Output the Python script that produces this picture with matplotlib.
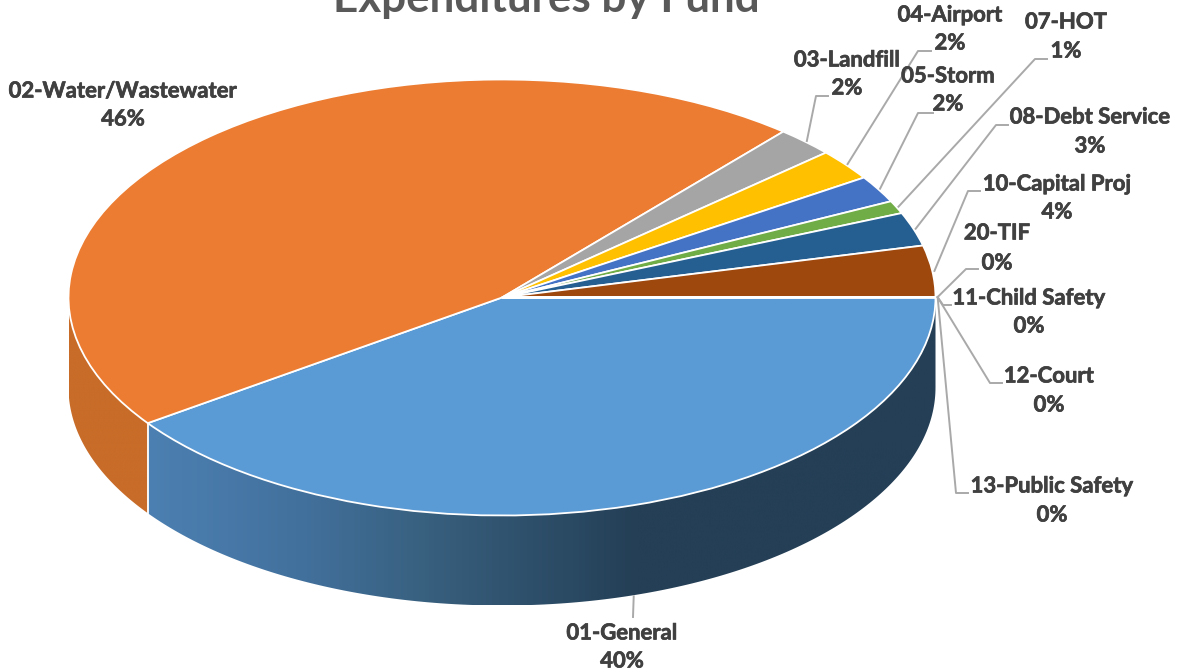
import numpy as np
import matplotlib
matplotlib.use('Agg')
import matplotlib.pyplot as plt
import matplotlib.patheffects as pe
from matplotlib.colors import LinearSegmentedColormap
from matplotlib.patches import Polygon

plt.rcParams['font.family'] = ['Lato', 'DejaVu Sans']

funds = ['01-General', '02-Water/Wastewater', '03-Landfill', '04-Airport', '05-Storm', '07-HOT',
         '08-Debt Service', '10-Capital Proj', '20-TIF', '11-Child Safety', '12-Court', '13-Public Safety']
shares = [40.3, 46.1, 2.2, 2.3, 2.0, 0.95, 2.5, 3.8, 0.01, 0.01, 0.01, 0.01]
colors = ['#5B9BD5', '#EB7C31', '#A5A5A5', '#FFC000', '#4472C4', '#70AD47',
          '#255E91', '#9E480E', '#636363', '#997300', '#264478', '#43682B']

# label centre (name line), percent line y, leader elbow and end, all in pixels
label_pos = [(622, 633, 661), (123, 91, 119), (847, 60, 88), (950, 15, 43), (948, 76, 104), (1066, 22, 51),
             (1090, 117, 146), (1057, 184, 212), (997, 233, 263), (1029, 298, 326), (1049, 376, 405), (1052, 486, 515)]
leaders = [(633, 617, 633), None, (816, 96, 828), (918, 51, 931), (918, 113, 933), (1035, 59, 1047),
           (996, 125, 1008), (968, 191, 980), (966, 269, 978), (943, 305, 951), (990, 383, 1002), (956, 493, 968)]

W, H = 1178, 672
cx, cy, rx, ry, depth = 502, 297.5, 433.5, 218, 90


def px(x, y):
    return (x - cx) / rx, (cy - y) / ry


fig = plt.figure(figsize=(W / 100, H / 100), dpi=100)
ax = fig.add_axes([0, 0, 1, 1])
x0, y0 = px(0, H)
x1, y1 = px(W, 0)
d = depth / ry


def wall(a0, a1, stops, cols):
    t = np.radians(np.linspace(a0, a1, 200))
    xs, ys = np.cos(t), -np.sin(t)
    pts = np.r_[np.c_[xs, ys], np.c_[xs, ys - d][::-1]]
    cm = LinearSegmentedColormap.from_list('w', list(zip(stops, cols)))
    im = ax.imshow(np.linspace(0, 1, 512)[None, :], cmap=cm, aspect='auto',
                   extent=[xs.min(), xs.max(), ys.min() - d, ys.max()], zorder=1)
    im.set_clip_path(Polygon(pts, transform=ax.transData))


edges = np.cumsum(shares) / np.sum(shares) * 360
# front wall of 01-General, shaded left to right
wall(0, edges[0], [0, 0.2, 0.35, 0.62, 1], ['#4c80b2', '#42709c', '#38607f', '#243f56', '#243f56'])
wall(edges[0], 180, [0, 1], ['#c86c29', '#c86c29'])
ax.plot(*zip((np.cos(np.radians(edges[0])), -np.sin(np.radians(edges[0]))),
             (np.cos(np.radians(edges[0])), -np.sin(np.radians(edges[0])) - d)),
        color='white', lw=1.3, zorder=2)

ax.pie(shares, colors=colors, startangle=0, counterclock=False, radius=1, center=(0, 0),
       wedgeprops=dict(edgecolor='white', linewidth=1.3, zorder=3))
ax.set_aspect('auto')
ax.set_xlim(x0, x1)
ax.set_ylim(y0, y1)
ax.axis('off')

bolder = [pe.withStroke(linewidth=0.5, foreground='#404040')]
mids = edges - np.array(shares) / np.sum(shares) * 180
for i, name in enumerate(funds):
    tx, ty1, ty2 = label_pos[i]
    ax.text(*px(tx, ty1), name, ha='center', va='center', fontsize=15.9, fontweight='bold', color='#404040',
            zorder=5, path_effects=bolder)
    ax.text(*px(tx, ty2), f'{int(shares[i] + 0.5)}%', ha='center', va='center', fontsize=15.9,
            fontweight='bold', color='#404040', zorder=5, path_effects=bolder)
    if leaders[i] is None:
        continue
    t = np.radians(mids[i])
    sx, sy = np.cos(t) * 1.005, -np.sin(t) * 1.005
    if i == 0:
        sy -= d
    ex, ey, endx = leaders[i]
    a, b = px(ex, ey), px(endx, ey)
    ax.plot([sx, a[0], b[0]], [sy, a[1], b[1]], color='#a9a9a9', lw=1.4, zorder=4)

fig.text(546 / W, 1 + 1 / H, 'Expenditures by Fund', ha='center', va='center', fontsize=31.7,
         fontweight='bold', color='#595959')
fig.savefig('out.png', dpi=100)
